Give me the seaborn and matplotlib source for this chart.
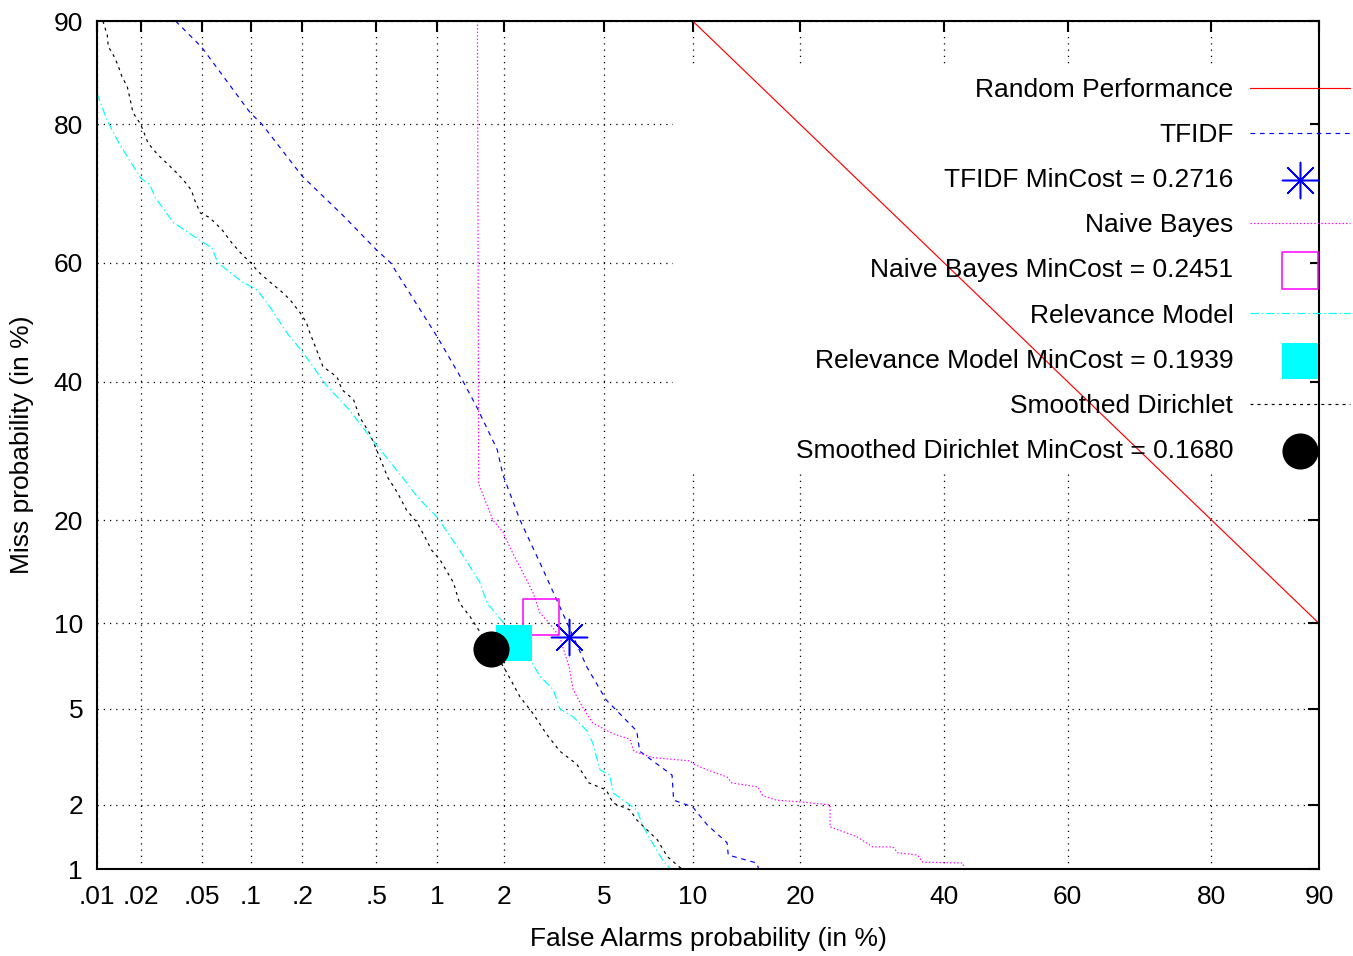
import numpy as np
import seaborn as sns
import matplotlib
matplotlib.use('Agg')
from matplotlib import pyplot as plt
from matplotlib.markers import MarkerStyle
from matplotlib.patches import Rectangle
from matplotlib.collections import PathCollection
from statistics import NormalDist

# DET-кривые, значения в процентах (False Alarm %, Miss %)
rand_fa = [10, 90]
rand_miss = [90, 10]

tfidf_fa = [0.034, 0.050, 0.099, 0.117, 0.199, 0.34, 0.50, 0.59, 1.0, 1.32,
            1.52, 1.87, 1.98, 2.34, 2.83, 3.4, 4.33, 5.1, 6.55, 6.7,
            8.6, 8.7, 10.0, 11.1, 12.7, 12.8, 15.4, 15.6]
tfidf_miss = [90, 87.9, 81.4, 80, 73.3, 67.3, 62.1, 60, 47.5, 40,
              35.9, 29.4, 25.8, 20, 15.3, 11.3, 7.1, 5.4, 4.1, 3.4,
              2.7, 2.1, 1.96, 1.62, 1.34, 1.17, 1.07, 1.0]

nb_fa = [1.53, 1.55, 1.79, 1.98, 2.18, 2.41, 2.65, 2.83, 3.1, 3.4,
         3.7, 3.83, 4.2, 4.55, 5.4, 6.2, 6.4, 7.4, 9.8, 10.1,
         11.1, 12.7, 13.1, 15.5, 16.0, 17.4, 20.3, 23.6, 23.6, 27.1,
         29.3, 32.2, 32.9, 35.9, 36.7, 43.0, 43.2]
nb_miss = [90, 24.6, 20, 18.6, 16.3, 14.3, 12.5, 10.8, 10.0, 9.0,
           7.1, 5.9, 5.0, 4.4, 4.0, 3.8, 3.4, 3.2, 3.1, 3.0,
           2.84, 2.65, 2.5, 2.4, 2.2, 2.1, 2.06, 2.0, 1.59, 1.43,
           1.28, 1.28, 1.2, 1.17, 1.08, 1.07, 1.01]

rm_fa = [0.01, 0.0114, 0.012, 0.014, 0.0175, 0.02, 0.023, 0.025, 0.033, 0.045,
         0.058, 0.063, 0.089, 0.109, 0.13, 0.163, 0.2, 0.27, 0.36, 0.49,
         0.68, 0.80, 1.0, 1.27, 1.57, 1.69, 2.0, 2.2, 2.62, 2.83,
         3.2, 3.4, 3.83, 4.33, 4.55, 4.84, 5.26, 5.4, 6.06, 6.55,
         6.9, 7.4, 8.0, 8.5]
rm_miss = [83.5, 81.1, 80.2, 77.9, 74.9, 73.0, 72.1, 70.2, 66.4, 64.2,
           62.4, 60, 56.8, 55.5, 52.6, 48.2, 45.0, 39.5, 35.5, 30.4,
           25.4, 22.9, 20.3, 16.6, 13.4, 11.6, 10.0, 8.6, 7.4, 6.6,
           5.9, 5.0, 4.66, 4.1, 3.67, 2.84, 2.7, 2.26, 2.04, 1.9,
           1.59, 1.34, 1.11, 1.0]

sd_fa = [0.011, 0.0118, 0.012, 0.0127, 0.014, 0.0149, 0.0162, 0.017, 0.0177, 0.02,
         0.0224, 0.026, 0.029, 0.034, 0.038, 0.043, 0.045, 0.049, 0.056, 0.067,
         0.077, 0.089, 0.1, 0.111, 0.13, 0.153, 0.17, 0.194, 0.21, 0.22,
         0.24, 0.26, 0.31, 0.33, 0.38, 0.41, 0.46, 0.52, 0.57, 0.64,
         0.71, 0.80, 0.87, 0.94, 1.03, 1.19, 1.27, 1.42, 1.76, 2.0,
         2.34, 2.65, 3.0, 3.4, 3.96, 4.4, 5.1, 5.4, 6.2, 6.55,
         7.1, 7.7, 8.3, 9.1, 9.3]
sd_miss = [90, 88.9, 87.9, 87.5, 86.3, 85.2, 84.2, 82.8, 81.4, 80,
           77.7, 76.2, 75.3, 73.9, 72.8, 71.3, 69.9, 67.9, 67.2, 65.3,
           63.2, 61.3, 60, 58.5, 56.8, 55.1, 53.8, 51.6, 50, 48.2,
           45.3, 42.5, 40.8, 38.7, 37.1, 34.3, 31.9, 28.3, 25.5, 23.4,
           21.2, 19.7, 18.1, 16.6, 15.6, 13.4, 11.6, 10.5, 8.2, 7.1,
           5.55, 4.8, 4.0, 3.4, 3.0, 2.5, 2.33, 2.04, 1.9, 1.71,
           1.54, 1.38, 1.15, 1.02, 1.0]

# точки MinCost
tfidf_min = ([3.7], [9.0])
nb_min = ([2.86], [10.5])
rm_min = ([2.2], [8.6])
sd_min = ([1.76], [8.2])

fa_ticks = [0.01, 0.02, 0.05, 0.1, 0.2, 0.5, 1, 2, 5, 10, 20, 40, 60, 80, 90]
fa_labels = ['.01', '.02', '.05', '.1', '.2', '.5', '1', '2', '5', '10', '20', '40', '60', '80', '90']
miss_ticks = [1, 2, 5, 10, 20, 40, 60, 80, 90]
miss_labels = ['1', '2', '5', '10', '20', '40', '60', '80', '90']

legend_order = ['Random Performance', 'TFIDF', 'TFIDF MinCost = 0.2716',
                'Naive Bayes', 'Naive Bayes MinCost = 0.2451',
                'Relevance Model', 'Relevance Model MinCost = 0.1939',
                'Smoothed Dirichlet', 'Smoothed Dirichlet MinCost = 0.1680']

# Пробит-шкала (нормальное отклонение)
_nd = NormalDist()

def _ppf_one(p):
    if not np.isfinite(p):
        return np.nan
    p = min(max(p / 100.0, 1e-9), 1 - 1e-9)
    return _nd.inv_cdf(p)

def _cdf_one(z):
    if not np.isfinite(z):
        return np.nan
    return _nd.cdf(z) * 100.0

to_probit = np.vectorize(_ppf_one, otypes=[float])
from_probit = np.vectorize(_cdf_one, otypes=[float])

sns.set_style('white')
plt.rcParams['font.family'] = ['Liberation Sans', 'DejaVu Sans']
plt.rcParams['text.color'] = 'black'
plt.rcParams['axes.labelcolor'] = 'black'
FS = 19

fig = plt.figure(figsize=(13.53, 9.56), dpi=100)
ax = fig.add_axes([0.07169, 0.09100, 0.90318, 0.88703])
ax.set_xscale('function', functions=(to_probit, from_probit))
ax.set_yscale('function', functions=(to_probit, from_probit))

lw = 0.85
sns.lineplot(x=rand_fa, y=rand_miss, sort=False, estimator=None, color='red',
             linewidth=lw, label='Random Performance', ax=ax)
sns.lineplot(x=tfidf_fa, y=tfidf_miss, sort=False, estimator=None, color='blue',
             linewidth=lw, linestyle=(0, (4, 4)), label='TFIDF', ax=ax)
sns.lineplot(x=nb_fa, y=nb_miss, sort=False, estimator=None, color='magenta',
             linewidth=lw, linestyle=(0, (1.2, 1.8)), label='Naive Bayes', ax=ax)
sns.lineplot(x=rm_fa, y=rm_miss, sort=False, estimator=None, color='cyan',
             linewidth=lw, linestyle=(0, (7, 2.5, 1.2, 2.5)), label='Relevance Model', ax=ax)
sns.lineplot(x=sd_fa, y=sd_miss, sort=False, estimator=None, color='black',
             linewidth=lw, linestyle=(0, (2.5, 3.5)), label='Smoothed Dirichlet', ax=ax)

msize = 26 ** 2
sns.scatterplot(x=tfidf_min[0], y=tfidf_min[1], marker=(8, 2, 0), s=msize, color='blue',
                linewidth=1.1, label='TFIDF MinCost = 0.2716', ax=ax, zorder=4)
sns.scatterplot(x=nb_min[0], y=nb_min[1], marker=MarkerStyle('s', fillstyle='none'), s=msize,
                color='magenta', linewidth=1.1, label='Naive Bayes MinCost = 0.2451', ax=ax, zorder=4)
sns.scatterplot(x=rm_min[0], y=rm_min[1], marker='s', s=msize, color='cyan', edgecolor='cyan',
                linewidth=0, label='Relevance Model MinCost = 0.1939', ax=ax, zorder=4)
sns.scatterplot(x=sd_min[0], y=sd_min[1], marker='o', s=msize, color='black', edgecolor='black',
                linewidth=0, label='Smoothed Dirichlet MinCost = 0.1680', ax=ax, zorder=4)

ax.set_xlim(0.01, 90)
ax.set_ylim(1, 90)
ax.set_xticks(fa_ticks)
ax.set_xticklabels(fa_labels)
ax.set_yticks(miss_ticks)
ax.set_yticklabels(miss_labels)
ax.minorticks_off()

ax.set_axisbelow(True)
ax.grid(True, color='black', linestyle=(0, (1, 4)), linewidth=0.9)
ax.tick_params(direction='in', top=True, right=True, length=8, width=1.5,
               labelsize=FS, pad=10, colors='black')
ax.tick_params(axis='x', pad=11.5)
for sp in ax.spines.values():
    sp.set_linewidth(1.5)
    sp.set_color('black')

ax.set_xlabel('False Alarms probability (in %)', fontsize=FS, labelpad=13)
ax.set_ylabel('Miss probability (in %)', fontsize=FS, labelpad=14)

# белый фон под легендой (как в gnuplot)
ax.add_patch(Rectangle((0.4714, 0.468), 0.5212, 0.48, transform=ax.transAxes,
                       facecolor='white', edgecolor='none', zorder=1))

handles, labels = ax.get_legend_handles_labels()
hmap = dict(zip(labels, handles))
leg = ax.legend([hmap[k] for k in legend_order], legend_order,
                loc='upper right', bbox_to_anchor=(1350 / 1353, 1 - 78 / 956),
                bbox_transform=fig.transFigure, frameon=False, markerfirst=False,
                fontsize=FS, handlelength=3.8, handletextpad=0.62,
                labelspacing=0.8, borderpad=0, borderaxespad=0, scatterpoints=1)
for h in leg.legend_handles:
    if isinstance(h, PathCollection):
        h.set_clip_box(ax.bbox)
        h.set_clip_on(True)

fig.savefig('out.png', dpi=100)
